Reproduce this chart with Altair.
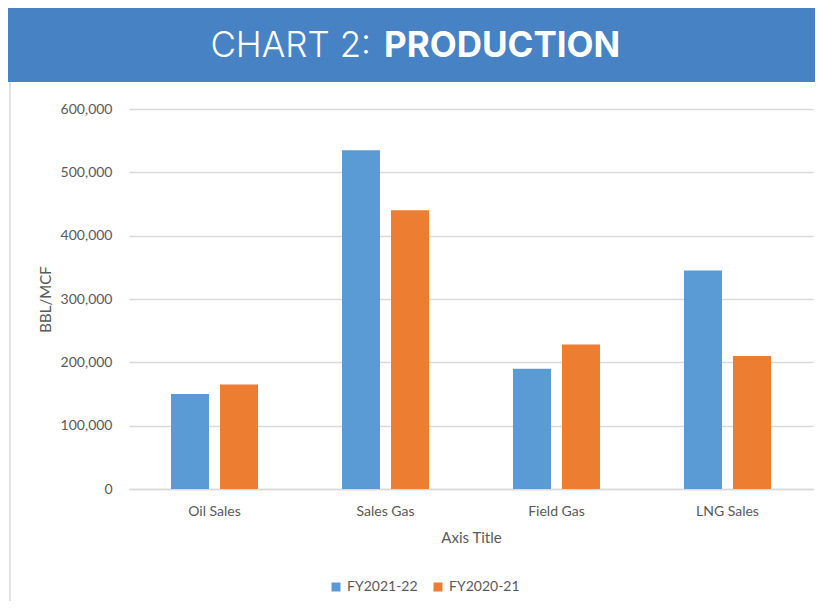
import altair as alt
import pandas as pd

categories = ["Oil Sales", "Sales Gas", "Field Gas", "LNG Sales"]
series_names = ["FY2021-22", "FY2020-21"]
fy2021_22 = [150000, 535000, 190000, 345000]
fy2020_21 = [165000, 440000, 228000, 210000]
colors = ["#5B9BD5", "#ED7D31"]
y_ticks = [0, 100000, 200000, 300000, 400000, 500000, 600000]

rows = []
for i, c in enumerate(categories):
    rows.append({"cat": c, "series": series_names[0], "value": fy2021_22[i]})
    rows.append({"cat": c, "series": series_names[1], "value": fy2020_21[i]})
df = pd.DataFrame(rows)
one = pd.DataFrame({"t": ["CHART 2:"], "u": ["PRODUCTION"]})

FONT = "Lato"
GREY = "#595959"

banner = alt.Chart(one).mark_rect(color="#4682C4").encode(
    x=alt.value(-121), x2=alt.value(686), y=alt.value(-101), y2=alt.value(-27)
)
border = alt.Chart(one).mark_rule(color="#D9D9D9", strokeWidth=1.5).encode(
    x=alt.value(-119), y=alt.value(-27), y2=alt.value(492)
)
title1 = alt.Chart(one).mark_text(
    font="Inter", fontSize=35, fontWeight=300, color="white", align="right", baseline="alphabetic"
).encode(x=alt.value(242), y=alt.value(-52), text="t:N")
title2 = alt.Chart(one).mark_text(
    font="Inter", fontSize=35, fontWeight=700, color="white", align="left", baseline="alphabetic"
).encode(x=alt.value(255), y=alt.value(-52), text="u:N")

bars = alt.Chart(df).mark_bar().encode(
    x=alt.X(
        "cat:N",
        sort=categories,
        scale=alt.Scale(paddingInner=0.491, paddingOuter=0.2456),
        axis=alt.Axis(
            title="Axis Title", labelAngle=0, labelPadding=15, tickSize=0,
            domainColor="#D9D9D9", domainWidth=1.3, titleY=48, titleBaseline="middle",
        ),
    ),
    xOffset=alt.XOffset("series:N", sort=series_names, scale=alt.Scale(paddingInner=0.224, paddingOuter=0)),
    y=alt.Y(
        "value:Q",
        scale=alt.Scale(domain=[0, 600000], nice=False),
        axis=alt.Axis(
            title="BBL/MCF", values=y_ticks, format=",d", tickSize=0, labelPadding=17,
            domain=False, gridColor="#D9D9D9", gridWidth=1.3,
            titleX=-84, titleY=190, titleAngle=270, titleAlign="center", titleBaseline="middle",
        ),
    ),
    color=alt.Color(
        "series:N",
        sort=series_names,
        scale=alt.Scale(domain=series_names, range=colors),
        legend=alt.Legend(
            title=None, orient="none", legendX=200, legendY=471, direction="horizontal",
            symbolType="square", symbolSize=81, symbolStrokeWidth=0, labelFontSize=14,
            labelColor=GREY, labelFont=FONT, columnPadding=13, labelOffset=4, padding=0,
        ),
    ),
)

chart = alt.layer(banner, border, title1, title2, bars).properties(
    width=684, height=380,
    autosize=alt.AutoSizeParams(type="none"),
    padding={"left": 121, "top": 101, "right": 2, "bottom": 112},
).configure_view(strokeWidth=0).configure_axis(
    labelFont=FONT, titleFont=FONT, labelFontSize=14, titleFontSize=15,
    labelColor=GREY, titleColor=GREY, titleFontWeight="normal",
)

chart.save("out.html", embed_options={"renderer": "svg", "actions": False})
